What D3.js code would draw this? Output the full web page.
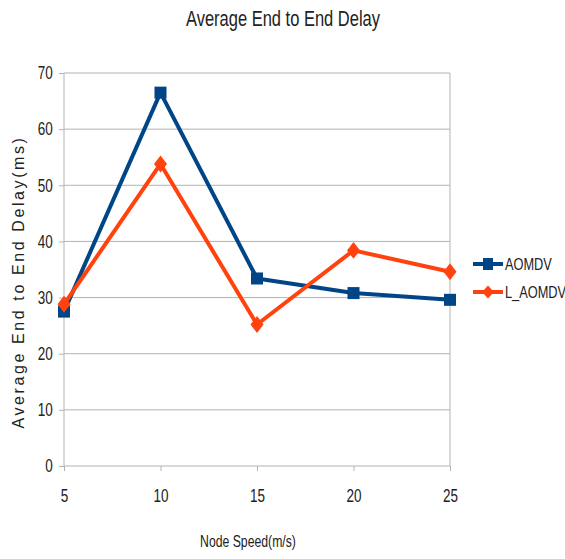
<!DOCTYPE html>
<html>
<head>
<meta charset="utf-8">
<script src="https://cdn.jsdelivr.net/npm/d3@7"></script>
<style>
  body { margin: 0; background: #fff; }
  text { fill: #222; }
</style>
</head>
<body>
<div id="chart"></div>
<script>
// data
const speeds = [5, 10, 15, 20, 25];
const aomdv = [27.5, 66.5, 33.4, 30.8, 29.6];
const lAomdv = [28.8, 53.8, 25.2, 38.4, 34.6];
const yTicks = [0, 10, 20, 30, 40, 50, 60, 70];
const seriesNames = ["AOMDV", "L_AOMDV"];

const W = 565, H = 559;
const margin = { top: 73, left: 64, right: 115, bottom: 93 };
const width = W - margin.left - margin.right;
const height = H - margin.top - margin.bottom;
const font = "'Liberation Sans', Arial, sans-serif";

const svg = d3.select("#chart")
  .append("svg")
    .attr("width", W)
    .attr("height", H);

const g = svg.append("g")
  .attr("transform", `translate(${margin.left},${margin.top})`);

const x = d3.scaleLinear().domain([5, 25]).range([0, width]);
const y = d3.scaleLinear().domain([0, 70]).range([height, 0]);

// narrow text = normal font squeezed horizontally
function narrowText(parent, tx, ty, size, sx, anchor, str) {
  return parent.append("text")
    .attr("transform", `translate(${tx},${ty}) scale(${sx},1)`)
    .attr("text-anchor", anchor)
    .style("font-family", font)
    .style("font-size", size + "px")
    .text(str);
}

// grid lines
g.append("g")
  .selectAll("line")
  .data(yTicks)
  .join("line")
    .attr("x1", 0).attr("x2", width)
    .attr("y1", d => y(d)).attr("y2", d => y(d))
    .attr("stroke", "#b3b3b3");

// plot borders left/right
g.append("line").attr("x1", 0).attr("x2", 0).attr("y1", 0).attr("y2", height).attr("stroke", "#b3b3b3");
g.append("line").attr("x1", width).attr("x2", width).attr("y1", 0).attr("y2", height).attr("stroke", "#b3b3b3");

// axes
const yAxis = g.append("g")
  .call(d3.axisLeft(y).tickValues(yTicks).tickSize(5).tickPadding(10));
const xAxis = g.append("g")
  .attr("transform", `translate(0,${height})`)
  .call(d3.axisBottom(x).tickValues(speeds).tickSize(5).tickPadding(18));

[yAxis, xAxis].forEach(a => {
  a.select(".domain").remove();
  a.selectAll(".tick line").attr("stroke", "#b3b3b3");
  a.selectAll("text")
    .attr("transform", "scale(0.75,1)")
    .style("font-family", font)
    .style("font-size", "18px")
    .attr("fill", "#222");
});

// lines
const line = d3.line()
  .x((d, i) => x(speeds[i]))
  .y(d => y(d));

const colors = ["#004586", "#ff420e"];

g.append("path")
  .datum(aomdv)
  .attr("d", line)
  .attr("fill", "none")
  .attr("stroke", colors[0])
  .attr("stroke-width", 4)
  .attr("stroke-linejoin", "round");

g.append("path")
  .datum(lAomdv)
  .attr("d", line)
  .attr("fill", "none")
  .attr("stroke", colors[1])
  .attr("stroke-width", 4)
  .attr("stroke-linejoin", "round");

// markers
g.append("g")
  .selectAll("rect")
  .data(aomdv)
  .join("rect")
    .attr("x", (d, i) => x(speeds[i]) - 6)
    .attr("y", d => y(d) - 6)
    .attr("width", 12)
    .attr("height", 12)
    .attr("fill", colors[0]);

const diamond = d3.symbol().type(d3.symbolDiamond2).size(150);
g.append("g")
  .selectAll("path")
  .data(lAomdv)
  .join("path")
    .attr("d", diamond)
    .attr("transform", (d, i) => `translate(${x(speeds[i])},${y(d)}) scale(0.85,1.1)`)
    .attr("fill", colors[1]);

// titles
narrowText(svg, 283, 26, 22, 0.75, "middle", "Average End to End Delay");
narrowText(svg, 248, 547, 17, 0.72, "middle", "Node Speed(m/s)");

svg.append("text")
  .attr("transform", "translate(24,282) rotate(-90)")
  .attr("text-anchor", "middle")
  .style("font-family", font)
  .style("font-size", "16px")
  .style("letter-spacing", "2.6px")
  .text("Average End to End Delay(ms)");

// legend
const legend = svg.append("g")
  .attr("transform", "translate(473,264)");

seriesNames.forEach((name, i) => {
  const row = legend.append("g").attr("transform", `translate(0,${i * 28})`);
  row.append("line")
    .attr("x1", 0).attr("x2", 30)
    .attr("stroke", colors[i])
    .attr("stroke-width", 4);
  if (i === 0) {
    row.append("rect").attr("x", 10).attr("y", -6).attr("width", 10).attr("height", 12).attr("fill", colors[i]);
  } else {
    row.append("path").attr("d", d3.symbol().type(d3.symbolDiamond2).size(110))
      .attr("transform", "translate(15,0) scale(0.9,1)")
      .attr("fill", colors[i]);
  }
  narrowText(row, 32, 6, 16, 0.8, "start", name);
});
</script>
</body>
</html>
